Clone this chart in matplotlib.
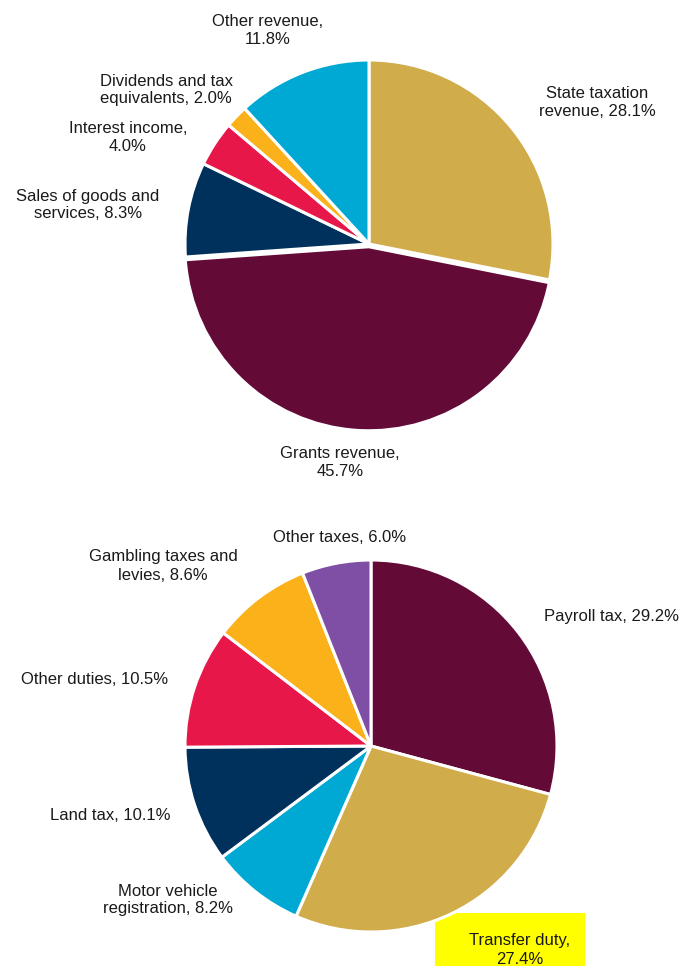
import matplotlib
matplotlib.use("Agg")
import matplotlib.pyplot as plt
from matplotlib.patches import Rectangle

plt.rcParams['font.family'] = ['Liberation Sans', 'DejaVu Sans']

W, H = 682, 966

# Top pie: total revenue
rev_labels = ["State taxation\nrevenue, 28.1%", "Grants revenue,\n45.7%",
              "Sales of goods and\nservices, 8.3%", "Interest income,\n4.0%",
              "Dividends and tax\nequivalents, 2.0%", "Other revenue,\n11.8%"]
rev_values = [28.1, 45.7, 8.3, 4.0, 2.0, 11.8]
rev_colors = ["#D1AC4A", "#640A37", "#00305C", "#E8174A", "#FBB21A", "#00A9D4"]

# Bottom pie: state taxation revenue
tax_labels = ["Payroll tax, 29.2%", "Transfer duty,\n27.4%", "Motor vehicle\nregistration, 8.2%",
              "Land tax, 10.1%", "Other duties, 10.5%", "Gambling taxes and\nlevies, 8.6%",
              "Other taxes, 6.0%"]
tax_values = [29.2, 27.4, 8.2, 10.1, 10.5, 8.6, 6.0]
tax_colors = ["#640A37", "#D1AC4A", "#00A9D4", "#00305C", "#E8174A", "#FBB21A", "#7E4FA5"]

fig = plt.figure(figsize=(W / 100, H / 100), dpi=100)


def add_pie(cx, cy, r, values, colors, explode=None):
    ax = fig.add_axes([(cx - r) / W, 1 - (cy + r) / H, 2 * r / W, 2 * r / H])
    ax.pie(values, colors=colors, startangle=90, counterclock=False,
           explode=explode, wedgeprops=dict(edgecolor="white", linewidth=2.2))
    ax.set_xlim(-1.0, 1.0)
    ax.set_ylim(-1.0, 1.0)
    ax.set_aspect("equal")
    ax.axis("off")
    return ax


add_pie(369, 244, 184, rev_values, rev_colors, explode=[0, 0.015, 0, 0, 0, 0])
add_pie(371, 746, 186, tax_values, tax_colors)

fs = 12.0


def label(x, y, s):
    fig.text(x / W, 1 - y / H, s, ha="center", va="center", fontsize=fs,
             color="#1a1a1a", linespacing=1.25)


rev_pos = [(597, 103), (340, 462), (88, 205), (128, 138), (166, 90), (268, 31)]
for (x, y), s in zip(rev_pos, rev_labels):
    label(x, y, s)

# highlight box for transfer duty
fig.add_artist(Rectangle((435 / W, 0), 150 / W, 53 / H, transform=fig.transFigure,
                         facecolor="#FFFF00", edgecolor="none", zorder=-1))

tax_pos = [(611, 617), (520, 950), (168, 900), (110, 815), (95, 680), (163, 566), (340, 537)]
for (x, y), s in zip(tax_pos, tax_labels):
    label(x, y, s)

fig.savefig("out.png", dpi=100, facecolor="white")
